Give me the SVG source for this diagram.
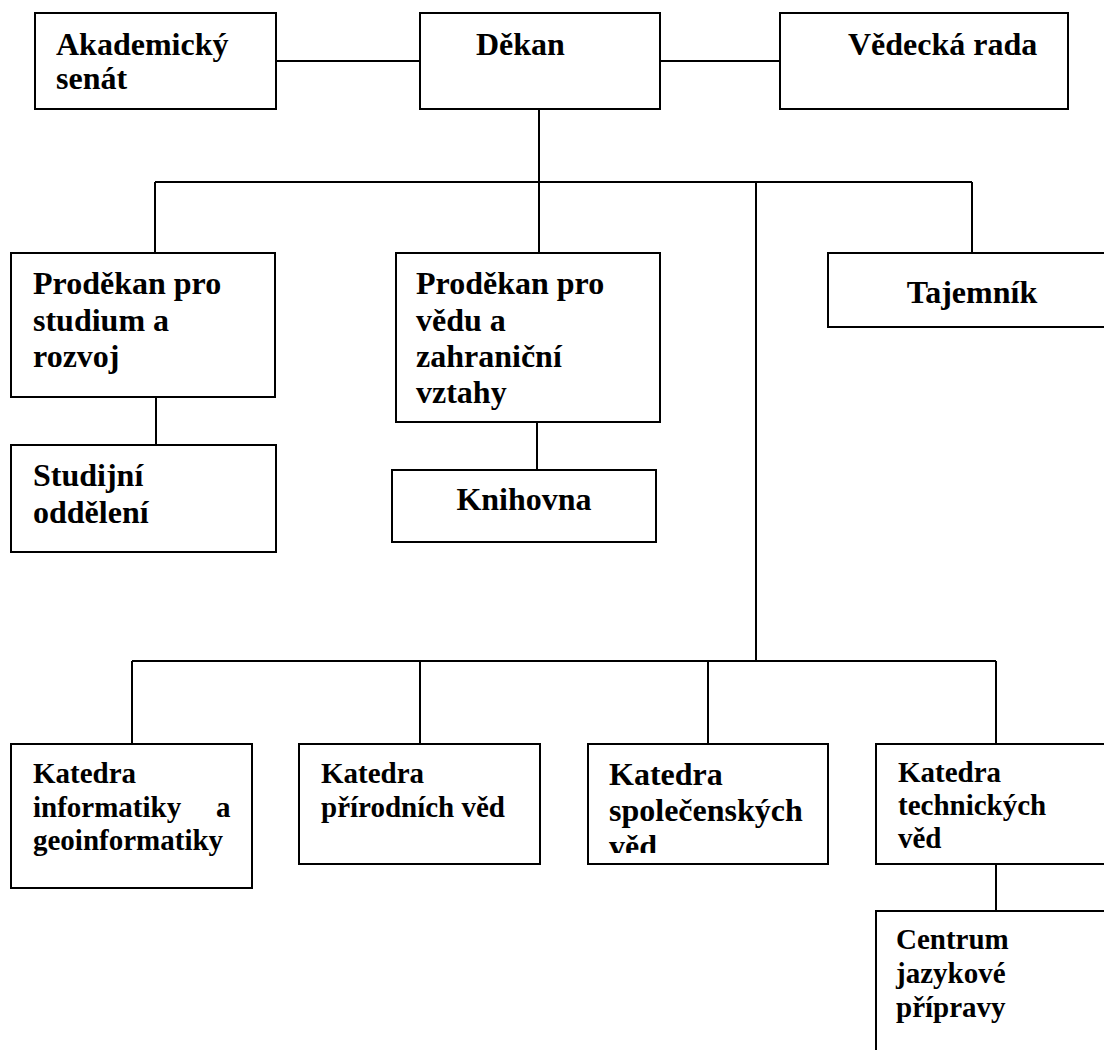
<svg xmlns="http://www.w3.org/2000/svg" width="1104" height="1050" viewBox="0 0 1104 1050">
<style>
.box{fill:#fff;stroke:#000;stroke-width:2}
.t{font-family:"Liberation Serif","Times New Roman",serif;font-weight:bold;fill:#000}
.l{font-size:32px}
.s{font-size:29px}
.c{text-anchor:middle}
#connectors line{stroke:#000;stroke-width:2}
</style>
<defs>
<clipPath id="clipSpol"><rect x="588" y="744" width="240" height="109"/></clipPath>
</defs>
<rect width="1104" height="1050" fill="#fff"/>
<g id="connectors">
<line x1="276" y1="61" x2="420" y2="61"/>
<line x1="660" y1="61" x2="780" y2="61"/>
<line x1="539" y1="109" x2="539" y2="182"/>
<line x1="155" y1="182" x2="972" y2="182"/>
<line x1="155" y1="182" x2="155" y2="253"/>
<line x1="539" y1="182" x2="539" y2="253"/>
<line x1="972" y1="182" x2="972" y2="253"/>
<line x1="156" y1="397" x2="156" y2="445"/>
<line x1="537" y1="422" x2="537" y2="470"/>
<line x1="756" y1="182" x2="756" y2="661"/>
<line x1="132" y1="661" x2="996" y2="661"/>
<line x1="132" y1="661" x2="132" y2="744"/>
<line x1="420" y1="661" x2="420" y2="744"/>
<line x1="708" y1="661" x2="708" y2="744"/>
<line x1="996" y1="661" x2="996" y2="744"/>
<line x1="996" y1="864" x2="996" y2="911"/>
</g>
<g id="akademicky-senat">
<rect class="box" x="35" y="13" width="241" height="96"/>
<text class="t l" x="56" y="55">Akademický</text>
<text class="t l" x="56" y="89">senát</text>
</g>
<g id="dekan">
<rect class="box" x="420" y="13" width="240" height="96"/>
<text class="t l" x="476" y="55">Děkan</text>
</g>
<g id="vedecka-rada">
<rect class="box" x="780" y="13" width="288" height="96"/>
<text class="t l" x="848" y="55">Vědecká rada</text>
</g>
<g id="prodekan-studium">
<rect class="box" x="11" y="253" width="264" height="144"/>
<text class="t l" x="33" y="294">Proděkan pro</text>
<text class="t l" x="33" y="331">studium a</text>
<text class="t l" x="33" y="367">rozvoj</text>
</g>
<g id="studijni-oddeleni">
<rect class="box" x="11" y="445" width="265" height="107"/>
<text class="t l" x="33" y="486">Studijní</text>
<text class="t l" x="33" y="523">oddělení</text>
</g>
<g id="prodekan-veda">
<rect class="box" x="396" y="253" width="264" height="169"/>
<text class="t l" x="416" y="294">Proděkan pro</text>
<text class="t l" x="416" y="331">vědu a</text>
<text class="t l" x="416" y="367">zahraniční</text>
<text class="t l" x="416" y="403">vztahy</text>
</g>
<g id="knihovna">
<rect class="box" x="392" y="470" width="264" height="72"/>
<text class="t l c" x="524" y="510">Knihovna</text>
</g>
<g id="tajemnik">
<rect class="box" x="828" y="253" width="288" height="74"/>
<text class="t l c" x="972" y="303">Tajemník</text>
</g>
<g id="katedra-informatiky">
<rect class="box" x="11" y="744" width="241" height="144"/>
<text class="t s" x="33" y="783">Katedra</text>
<text class="t s" x="33" y="817">informatiky</text>
<text class="t s" x="216" y="817">a</text>
<text class="t s" x="33" y="850">geoinformatiky</text>
</g>
<g id="katedra-prirodnich">
<rect class="box" x="299" y="744" width="241" height="120"/>
<text class="t s" x="321" y="783">Katedra</text>
<text class="t s" x="321" y="817">přírodních věd</text>
</g>
<g id="katedra-spolecenskych">
<rect class="box" x="588" y="744" width="240" height="120"/>
<g clip-path="url(#clipSpol)">
<text class="t l" x="609" y="785">Katedra</text>
<text class="t l" x="609" y="821">společenských</text>
<text class="t l" x="609" y="857">věd</text>
</g>
</g>
<g id="katedra-technickych">
<rect class="box" x="876" y="744" width="242" height="120"/>
<text class="t s" x="898" y="782">Katedra</text>
<text class="t s" x="898" y="815">technických</text>
<text class="t s" x="898" y="848">věd</text>
</g>
<g id="centrum-jazykove-pripravy">
<rect class="box" x="876" y="911" width="242" height="160"/>
<text class="t s" x="896" y="949">Centrum</text>
<text class="t s" x="896" y="983">jazykové</text>
<text class="t s" x="896" y="1017">přípravy</text>
</g>
</svg>
